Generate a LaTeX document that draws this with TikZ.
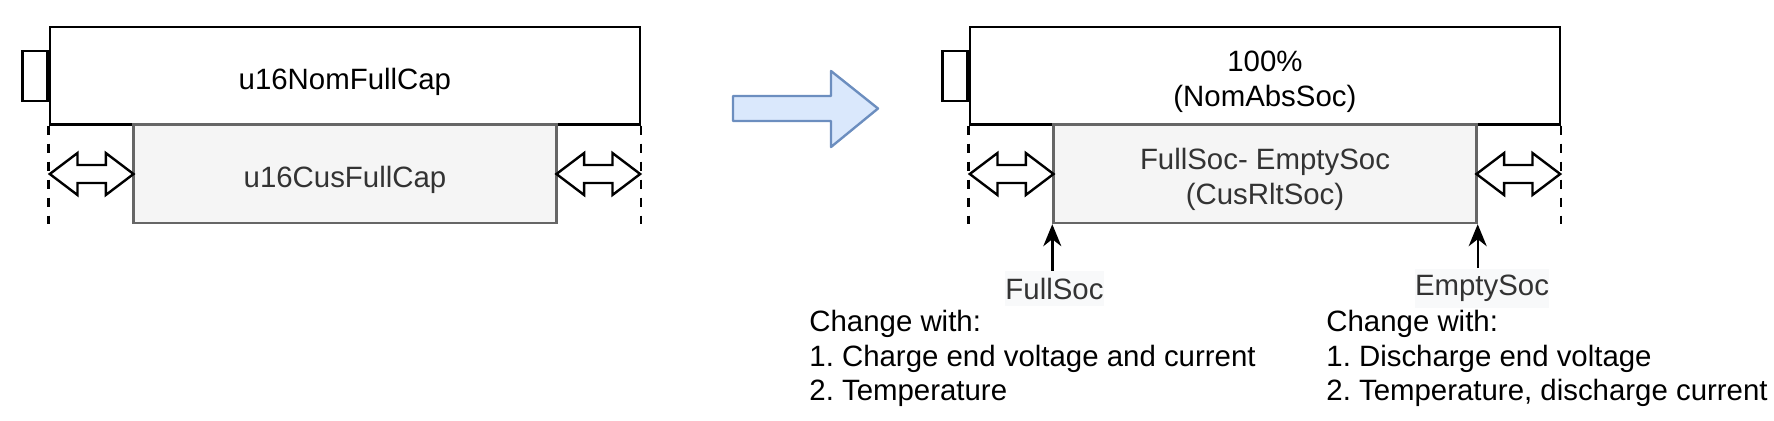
\documentclass[tikz,border=0pt]{standalone}
\usepackage{fontspec}
\setmainfont{Liberation Sans}
\usepackage{tikz}
\usetikzlibrary{arrows.meta}
\frenchspacing

\definecolor{boxgray}{HTML}{666666}
\definecolor{boxfill}{HTML}{F5F5F5}
\definecolor{txtgray}{HTML}{333333}
\definecolor{labelbg}{HTML}{F8F9FA}
\definecolor{arrowline}{HTML}{6C8EBF}
\definecolor{arrowfill}{HTML}{DAE8FC}

\tikzset{
  batt/.style={draw, line width=1.2pt, fill=white, minimum width=295.1pt, minimum height=48.75pt, inner sep=0pt},
  cus/.style={draw=boxgray, fill=boxfill, line width=1.2pt, minimum width=211.5pt, minimum height=49.25pt, inner sep=0pt},
  boxtext/.style={align=center, inner sep=0pt, yshift=-3pt},
  pole/.style={draw, line width=1.2pt, fill=white, minimum width=12.45pt, minimum height=25pt, inner sep=0pt},
  limit/.style={dash pattern=on 4.5pt off 4.5pt, line width=1.2pt},
  soclabel/.style={fill=labelbg, text=txtgray, inner xsep=0pt, minimum height=17pt},
  socarrow/.style={-{Stealth[length=11pt,width=9pt,inset=3.5pt]}, line width=1.2pt},
  note/.style={anchor=west, align=left, inner sep=0pt},
  gap/.pic={
    \draw[line width=1.2pt, fill=white] (-41.85,0) -- (-14.15,-21) -- (-14.15,-9) -- (14.15,-9)
      -- (14.15,-21) -- (41.85,0) -- (14.15,21) -- (14.15,9) -- (-14.15,9) -- (-14.15,21) -- cycle;
  }
}

\begin{document}
\begin{tikzpicture}[x=0.5pt, y=-0.5pt, font=\fontsize{14.7pt}{17.4pt}\selectfont]
\useasboundingbox (0,0) rectangle (1774,420);

% left battery
\node[batt] (nomcap) at (344.9,75.75) {};
\node[pole, anchor=east] (nompole) at (nomcap.west) {};
\node[boxtext] (nomcaptext) at (nomcap.center) {u16NomFullCap};
\node[cus] (cuscap) at (345,173.75) {};
\node[boxtext, text=txtgray] (cuscaptext) at (cuscap.center) {u16CusFullCap};
\draw[limit] (nomcap.south west) -- ++(0,98.5);
\draw[limit] (nomcap.south east) -- ++(0,98.5);
\pic at (91.65,174) {gap};
\pic at (598.3,174) {gap};

% transition
\draw[draw=arrowline, fill=arrowfill, line width=1.2pt, line join=round]
  (733,96) -- (831,96) -- (831,71) -- (878,108.5) -- (831,147) -- (831,121) -- (733,121) -- cycle;

% right battery
\node[batt] (nomsoc) at (1264.9,75.75) {};
\node[pole, anchor=east] (socpole) at (nomsoc.west) {};
\node[boxtext] (nomsoctext) at (nomsoc.center) {100\%\\(NomAbsSoc)};
\node[cus] (cussoc) at (1265,173.75) {};
\node[boxtext, text=txtgray] (cussoctext) at (cussoc.center) {FullSoc- EmptySoc\\(CusRltSoc)};
\draw[limit] (nomsoc.south west) -- ++(0,98.5);
\draw[limit] (nomsoc.south east) -- ++(0,98.5);
\pic at (1011.65,174) {gap};
\pic at (1518.3,174) {gap};

\node[soclabel] (fullsoc) at (1054.5,288.5) {FullSoc};
\node[soclabel] (emptysoc) at (1482,288.5) {EmptySoc};
\draw[socarrow] (cussoc.south west |- fullsoc.north) -- (cussoc.south west);
\draw[socarrow] (cussoc.south east |- emptysoc.north) -- (cussoc.south east);

\node[note] (fullnote) at (809,358.5) {Change with:\\1. Charge end voltage and current\\2. Temperature};
\node[note] (emptynote) at (1326,358.5) {Change with:\\1. Discharge end voltage\\2. Temperature, discharge current};
\end{tikzpicture}
\end{document}
